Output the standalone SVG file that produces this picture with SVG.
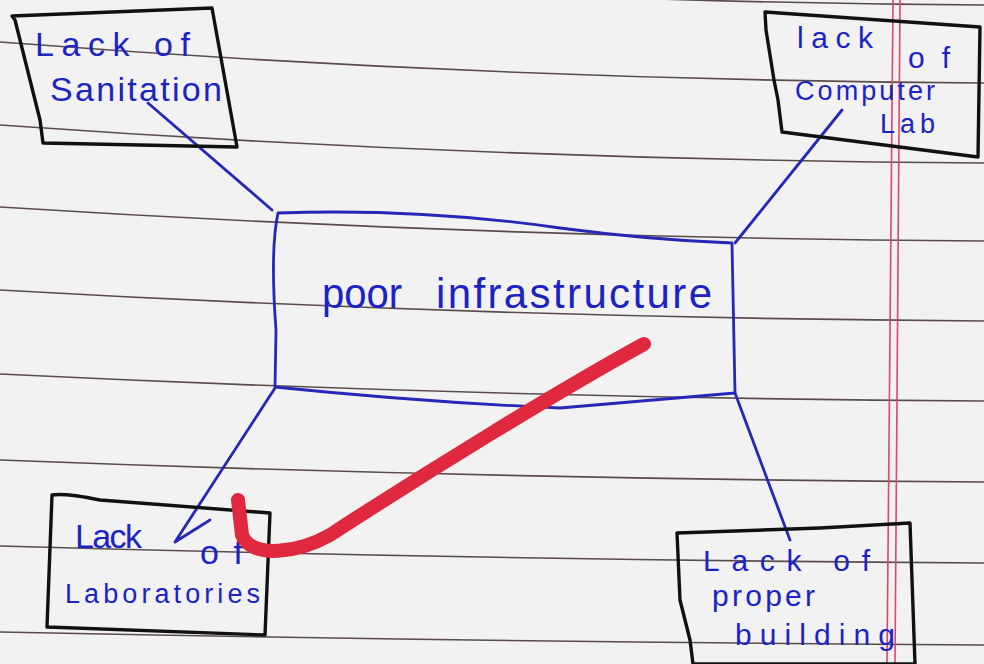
<svg xmlns="http://www.w3.org/2000/svg" width="984" height="664" viewBox="0 0 984 664">
<style>
.rule{fill:none;stroke:#5b4c4c;stroke-width:1.6}
.margin{fill:none;stroke:#e0456a;stroke-width:1.6}
.box{fill:none;stroke:#111;stroke-width:3.4;stroke-linejoin:round;stroke-linecap:round}
.bbox{fill:none;stroke:#2626b8;stroke-width:2.8;stroke-linejoin:round;stroke-linecap:round}
.conn{fill:none;stroke:#2626b8;stroke-width:2.8;stroke-linecap:round;stroke-linejoin:round}
.t{font-family:"Liberation Sans",Arial,sans-serif;fill:#1c22c4;font-size:34px}
.m{font-size:30px}
.s{font-size:27px}
.tc{font-family:"Liberation Sans",Arial,sans-serif;fill:#1c22c4;font-size:42px}
</style>
<rect width="984" height="664" fill="#f2f2f2"/>
<g id="paper">
<path class="rule" d="M0,-38 Q490,2 984,5"/>
<path class="rule" d="M0,42 Q490,80 984,83"/>
<path class="rule" d="M0,125 Q490,160 984,163"/>
<path class="rule" d="M0,207 Q490,238 984,241"/>
<path class="rule" d="M0,290 Q490,318 984,321"/>
<path class="rule" d="M0,374 Q490,398 984,401"/>
<path class="rule" d="M0,460 Q490,479 984,482"/>
<path class="rule" d="M0,546 Q490,560 984,563"/>
<path class="rule" d="M0,632 Q490,642 984,645"/>
<path class="margin" d="M893,0 L887,664"/>
<path class="margin" d="M900,0 L895,664"/>
</g>
<g id="connectors">
<path class="conn" d="M148,103 L272,210"/>
<path class="conn" d="M842,110 L735,243"/>
<path class="conn" d="M275,388 L175,542 L210,520"/>
<path class="conn" d="M735,393 L790,540"/>
</g>
<g id="node-sanitation">
<path class="box" d="M12,16 L212,8 L237,147 L43,143 L40,120 L15,20 Z"/>
<text class="t" x="35" y="56" textLength="155" lengthAdjust="spacing">Lack of</text>
<text class="t" x="50" y="101" textLength="172" lengthAdjust="spacing">Sanitation</text>
</g>
<g id="node-computer-lab">
<path class="box" d="M765,12 L980,27 L978,157 L782,132 L778,100 L774,80 L766,30 Z"/>
<text class="t m" x="797" y="48" textLength="76" lengthAdjust="spacing">lack</text>
<text class="t m" x="908" y="68" textLength="42" lengthAdjust="spacing">of</text>
<text class="t s" x="795" y="100" textLength="140" lengthAdjust="spacing">Computer</text>
<text class="t s" x="880" y="133" textLength="55" lengthAdjust="spacing">Lab</text>
</g>
<g id="node-center">
<path class="bbox" d="M278,213 Q420,208 560,228 Q650,240 732,243 L735,393 Q650,400 560,408 Q420,402 275,387 L276,330 Q270,250 278,213 Z"/>
<text class="tc" x="322" y="308" textLength="80" lengthAdjust="spacingAndGlyphs">poor</text>
<text class="tc" x="436" y="308" textLength="276" lengthAdjust="spacing">infrastructure</text>
</g>
<g id="node-laboratories">
<path class="box" d="M52,495 Q65,493 100,500 L270,513 L265,635 L47,627 Z"/>
<text class="t" x="75" y="548" textLength="67" lengthAdjust="spacing">Lack</text>
<text class="t" x="200" y="564" textLength="43" lengthAdjust="spacing">of</text>
<text class="t s" x="65" y="603" textLength="195" lengthAdjust="spacing">Laboratories</text>
</g>
<g id="node-building">
<path class="box" d="M677,533 L820,528 L910,523 L915,664 L693,664 L690,640 L680,600 Z"/>
<text class="t m" x="703" y="571" textLength="167" lengthAdjust="spacing">Lack of</text>
<text class="t m" x="712" y="606" textLength="103" lengthAdjust="spacing">proper</text>
<text class="t m" x="735" y="645" textLength="160" lengthAdjust="spacing">building</text>
</g>
<g id="annotation">
<path d="M644,344 C560,390 430,470 330,535 C300,552 252,560 242,535 L238,500" fill="none" stroke="#e0283e" stroke-width="14" stroke-linecap="round" stroke-linejoin="round"/>
</g>
</svg>
